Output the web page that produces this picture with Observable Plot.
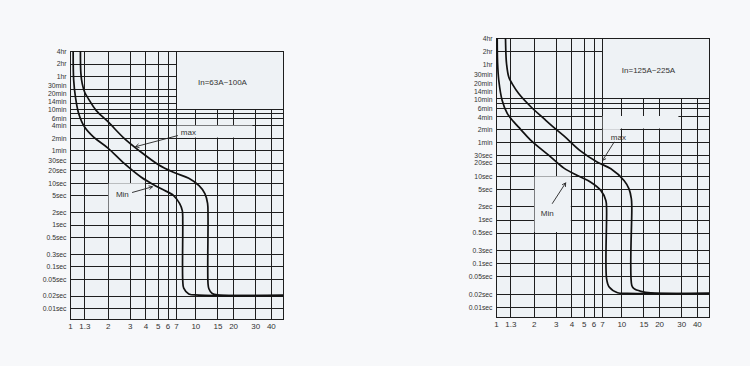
<!DOCTYPE html>
<html>
<head>
<meta charset="utf-8">
<script src="https://cdn.jsdelivr.net/npm/d3@7"></script>
<script src="https://cdn.jsdelivr.net/npm/@observablehq/plot@0.6"></script>
<style>
  html, body { margin: 0; padding: 0; background: #f7f8fa; }
  #wrap { position: relative; width: 750px; height: 366px; overflow: hidden; }
  #wrap > svg { position: absolute; top: 0; }
</style>
</head>
<body>
<div id="wrap"></div>
<script>
// ---- tick labels (seconds where each label sits, read per panel) ----
const yTickLabels = ["4hr", "2hr", "1hr", "30min", "20min", "14min", "10min", "6min", "4min", "2min", "1min", "30sec", "20sec", "10sec", "5sec", "2sec", "1sec", "0.5sec", "0.3sec", "0.1sec", "0.05sec", "0.02sec", "0.01sec"];
const leftLabelAt  = [14400, 7200, 3600, 2200, 1400, 900, 585, 360, 240, 120, 60, 35, 20, 10, 5, 2, 1, 0.5, 0.2, 0.1, 0.05, 0.02, 0.01];
const rightLabelAt = [14400, 7200, 3600, 2157, 1343, 881, 578, 360, 224, 120, 60, 30, 20, 10, 5, 2, 1, 0.5, 0.2, 0.1, 0.05, 0.02, 0.01];
const xTickValues = [1, 1.3, 2, 3, 4, 5, 6, 7, 10, 15, 20, 30, 40];
const xTickLabels = ["1", "1.3", "2", "3", "4", "5", "6", "7", "10", "15", "20", "30", "40"];

// ---- grid lines (seconds / multiples of In) ----
const hGridFull = [600, 480, 360, 240, 120, 60, 30, 20, 10, 5, 2, 1, 0.5, 0.2, 0.1, 0.05, 0.02, 0.01];
const hGridUpperLeft = [7200, 3600, 1800, 1200, 840];
const hGridUpperRight = [7200];
const vGridFull = [1.3, 2, 3, 4, 5, 6, 7];
const vGridLower = [10, 15, 20, 30, 40];

// ---- curves: [multiple of In, seconds] ----
const leftMinCurve = [[1.05,14400],[1.06,3000],[1.096,1153],[1.16,480],[1.3,220],[1.53,128],[1.99,70],[2.68,30],[3.67,14],[4.6,9.3],[5.4,7.2],[6.65,5.1],[7.43,3.26],[7.8,2.2],[7.86,1.2],[7.86,0.046],[8.0,0.031],[8.78,0.0225],[10.6,0.0212],[50,0.0208]];
const leftMaxCurve = [[1.2,14400],[1.21,4300],[1.24,2440],[1.3,1500],[1.38,1100],[1.6,560],[1.99,300],[2.68,120],[3.5,62],[5.03,28],[6.77,18],[8.78,13.2],[10.6,8.8],[11.8,5.7],[12.4,3.3],[12.5,1.5],[12.5,0.04],[12.7,0.03],[13.5,0.023],[15.3,0.0212],[50,0.0208]];
const rightMinCurve = [[1.013,14400],[1.02,4000],[1.043,1574],[1.11,548],[1.218,277],[1.368,180],[1.556,120],[1.87,68],[2.62,30.3],[3.45,15.5],[4.42,10.5],[5.65,7.4],[6.79,4.8],[7.45,2.82],[7.55,1.85],[7.55,0.0456],[7.92,0.0293],[9.24,0.0218],[11,0.021],[50,0.021]];
const rightMaxCurve = [[1.18,14400],[1.19,6000],[1.202,3855],[1.254,1871],[1.335,1321],[1.508,781],[1.87,400],[2.39,210],[2.8,140],[3.45,85],[4.7,38],[6.39,21.2],[8.17,15],[10.4,8.1],[11.4,5.2],[11.9,3.1],[12.0,2.0],[12.0,0.032],[12.5,0.027],[14.2,0.0234],[17,0.0215],[50,0.0212]];

// ---- annotations ----
const leftRatingLabel = "In=63A~100A";
const rightRatingLabel = "In=125A~225A";
const ratingLabelPos = [16.3, 2650];
const leftMaxArrow = [7.14, 139, 3.31, 75.8];
const leftMinArrow = [3.12, 6.08, 4.5, 8.3];
const rightMaxArrow = [8.67, 61, 7.01, 23.2];
const rightMinArrow = [2.79, 2.41, 3.56, 7.1];
const leftMaxText = [7.59, 167];
const leftMinText = [2.59, 5.56];
const rightMaxText = [8.17, 78];
const rightMinText = [2.54, 1.42];

// blank boxes behind labels: [x1, x2, y1, y2]
const leftBlankBoxes = [[7.1, 28.5, 122, 236], [2.03, 3.95, 2.1, 9.8]];
const rightBlankBoxes = [[7.1, 28.5, 122, 236], [7.1, 9.8, 61, 118], [2.03, 3.95, 0.52, 9.8]];

const gridColor = "#1e1e1e";
const plotFill = "#eef2f5";
const xLabelMap = new Map(xTickValues.map((v, i) => [v, xTickLabels[i]]));

function panel(o) {
  const pts = c => c.map(([x, y]) => ({x, y}));
  const arrow = a => [{x1: a[0], y1: a[1], x2: a[2], y2: a[3]}];
  const boxes = o.boxes.map(([x1, x2, y1, y2]) => ({x1, x2, y1, y2}));
  const labels = yTickLabels.map((t, i) => ({t, y: o.labelAt[i]}));
  const gl = {stroke: gridColor, strokeWidth: 1, shapeRendering: "crispEdges"};
  return Plot.plot({
    width: 375, height: 366,
    marginLeft: o.ml, marginRight: o.mr, marginTop: o.mt, marginBottom: o.mb,
    style: {background: "transparent", fontFamily: "'Liberation Sans', Arial, sans-serif", fontSize: "8px", color: "#333"},
    x: {type: "log", domain: [1, 50]},
    y: {type: "log", domain: [o.ymin, 14400], axis: null},
    marks: [
      Plot.frame({fill: plotFill}),
      Plot.ruleY(hGridFull, {x1: 1, x2: 50, ...gl}),
      Plot.ruleY(o.hUpper, {x1: 1, x2: 7, ...gl}),
      Plot.ruleX(vGridFull, {y1: o.ymin, y2: 14400, ...gl}),
      Plot.ruleX(vGridLower, {y1: o.ymin, y2: 600, ...gl}),
      Plot.rect(boxes, {x1: "x1", x2: "x2", y1: "y1", y2: "y2", fill: plotFill}),
      Plot.frame({stroke: gridColor, strokeWidth: 1, shapeRendering: "crispEdges"}),
      Plot.line(pts(o.minCurve), {x: "x", y: "y", stroke: "#111", strokeWidth: 1.7, curve: "catmull-rom", clip: true}),
      Plot.line(pts(o.maxCurve), {x: "x", y: "y", stroke: "#111", strokeWidth: 1.7, curve: "catmull-rom", clip: true}),
      Plot.arrow(arrow(o.maxArrow), {x1: "x1", y1: "y1", x2: "x2", y2: "y2", stroke: "#222", strokeWidth: 0.9, headLength: 6}),
      Plot.arrow(arrow(o.minArrow), {x1: "x1", y1: "y1", x2: "x2", y2: "y2", stroke: "#222", strokeWidth: 0.9, headLength: 6}),
      Plot.text([o.rating], {x: () => ratingLabelPos[0], y: () => ratingLabelPos[1], text: d => d, fontSize: 8, fill: "#333"}),
      Plot.text(["max"], {x: () => o.maxText[0], y: () => o.maxText[1], text: d => d, textAnchor: "start", fontSize: 8, fill: "#333"}),
      Plot.text(["Min"], {x: () => o.minText[0], y: () => o.minText[1], text: d => d, fontSize: 8, fill: "#333"}),
      Plot.text(labels, {x: () => 1, y: "y", text: "t", textAnchor: "end", dx: -4, fontSize: 6.8, fill: "#333"}),
      Plot.axisX({ticks: xTickValues, tickFormat: d => xLabelMap.get(d), tickSize: 0, tickPadding: 4, label: null, fill: "#333"})
    ]
  });
}

const wrap = document.getElementById("wrap");
const left = panel({ml: 70, mr: 92, mt: 51, mb: 47, ymin: 0.0055, hUpper: hGridUpperLeft, labelAt: leftLabelAt,
  minCurve: leftMinCurve, maxCurve: leftMaxCurve, maxArrow: leftMaxArrow, minArrow: leftMinArrow,
  maxText: leftMaxText, minText: leftMinText, rating: leftRatingLabel, boxes: leftBlankBoxes});
left.style.left = "0px";
wrap.appendChild(left);
const right = panel({ml: 121, mr: 41, mt: 38, mb: 49, ymin: 0.0059, hUpper: hGridUpperRight, labelAt: rightLabelAt,
  minCurve: rightMinCurve, maxCurve: rightMaxCurve, maxArrow: rightMaxArrow, minArrow: rightMinArrow,
  maxText: rightMaxText, minText: rightMinText, rating: rightRatingLabel, boxes: rightBlankBoxes});
right.style.left = "375px";
wrap.appendChild(right);
</script>
</body>
</html>
